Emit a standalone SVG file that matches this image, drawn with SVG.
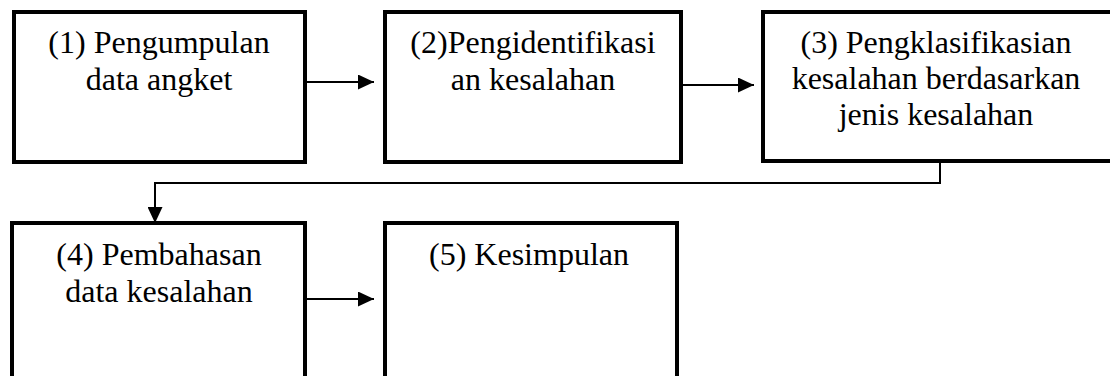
<svg xmlns="http://www.w3.org/2000/svg" width="1110" height="376" viewBox="0 0 1110 376">
<style>
.box{fill:#fff;stroke:#000;stroke-width:4}
.t{font-family:"Liberation Serif","Times New Roman",serif;font-size:32px;fill:#000;text-anchor:middle}
.c{fill:none;stroke:#000;stroke-width:2}
</style>
<defs>
<marker id="ah" markerWidth="16" markerHeight="15" refX="16" refY="7.5" orient="auto" markerUnits="userSpaceOnUse">
<path d="M0,0 L16,7.5 L0,15 Z" fill="#000"/>
</marker>
</defs>
<rect width="1110" height="376" fill="#fff"/>
<g id="n1">
<rect class="box" x="14" y="12" width="291" height="150"/>
<text class="t" x="159" y="53">(1) Pengumpulan</text>
<text class="t" x="159" y="90">data angket</text>
</g>
<g id="n2">
<rect class="box" x="385" y="12" width="296" height="150"/>
<text class="t" x="533" y="53">(2)Pengidentifikasi</text>
<text class="t" x="533" y="90">an kesalahan</text>
</g>
<g id="n3">
<rect class="box" x="763" y="12" width="360" height="149"/>
<text class="t" x="936" y="53">(3) Pengklasifikasian</text>
<text class="t" x="936" y="89">kesalahan berdasarkan</text>
<text class="t" x="936" y="125">jenis kesalahan</text>
</g>
<g id="n4">
<rect class="box" x="12" y="223" width="293" height="170"/>
<text class="t" x="159" y="265">(4) Pembahasan</text>
<text class="t" x="159" y="302">data kesalahan</text>
</g>
<g id="n5">
<rect class="box" x="385" y="223" width="292" height="170"/>
<text class="t" x="529" y="265">(5) Kesimpulan</text>
</g>
<g id="connectors">
<line class="c" x1="307" y1="82" x2="374" y2="82" marker-end="url(#ah)"/>
<line class="c" x1="683" y1="85" x2="754" y2="85" marker-end="url(#ah)"/>
<polyline class="c" points="940,163 940,183 155,183 155,223" marker-end="url(#ah)"/>
<line class="c" x1="307" y1="299" x2="374" y2="299" marker-end="url(#ah)"/>
</g>
</svg>
